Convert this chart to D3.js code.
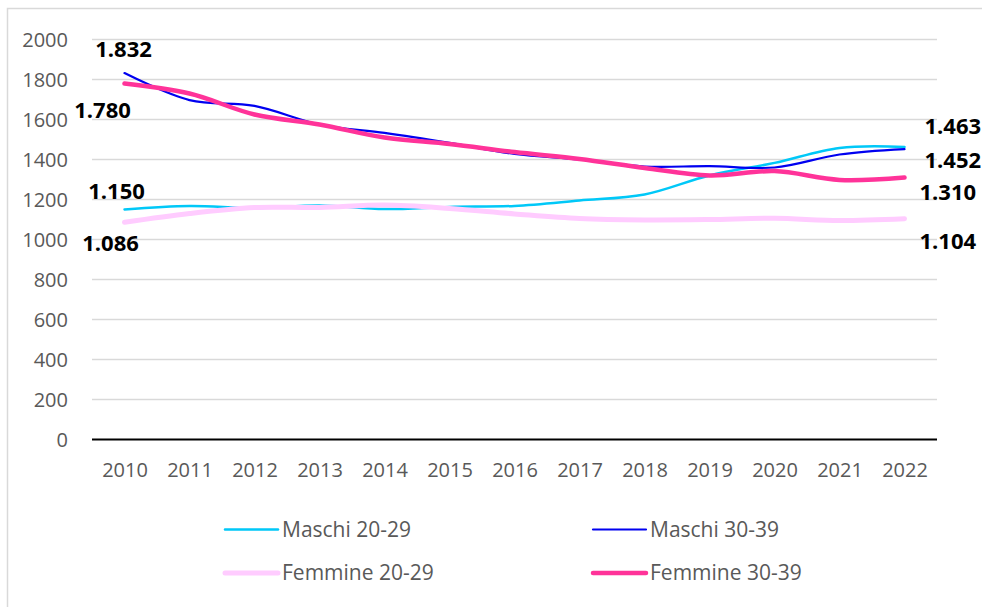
<!DOCTYPE html>
<html>
<head>
<meta charset="utf-8">
<script src="https://cdn.jsdelivr.net/npm/d3@7"></script>
<style>
  html, body { margin: 0; padding: 0; background: #fff; }
  svg { display: block; }
</style>
</head>
<body>
<svg id="chart" width="982" height="607"></svg>
<script>
// ---- data ----
const years = [2010, 2011, 2012, 2013, 2014, 2015, 2016, 2017, 2018, 2019, 2020, 2021, 2022];
const maschi2029 = [1150, 1168, 1157, 1170, 1152, 1163, 1168, 1195, 1225, 1320, 1383, 1458, 1463];
const maschi3039 = [1832, 1697, 1668, 1575, 1533, 1483, 1428, 1400, 1365, 1367, 1360, 1425, 1452];
const femmine2029 = [1086, 1130, 1160, 1160, 1172, 1155, 1128, 1105, 1098, 1100, 1106, 1095, 1104];
const femmine3039 = [1780, 1730, 1625, 1575, 1510, 1478, 1437, 1403, 1358, 1320, 1342, 1298, 1310];
const seriesNames = ["Maschi 20-29", "Maschi 30-39", "Femmine 20-29", "Femmine 30-39"];
const yTicks = [0, 200, 400, 600, 800, 1000, 1200, 1400, 1600, 1800, 2000];

const series = [
  { name: seriesNames[0], values: maschi2029, color: "#00C8F8", width: 2.5 },
  { name: seriesNames[1], values: maschi3039, color: "#0000F0", width: 2.2 },
  { name: seriesNames[2], values: femmine2029, color: "#FFCCFF", width: 5 },
  { name: seriesNames[3], values: femmine3039, color: "#FF3399", width: 4.5 }
];

// label offsets relative to first / last point
const labelSpecs = [
  { s: 0, i: 0, dx: -8, dy: -18, anchor: "middle" },
  { s: 1, i: 0, dx: -1, dy: -24, anchor: "middle" },
  { s: 2, i: 0, dx: -14, dy: 21, anchor: "middle" },
  { s: 3, i: 0, dx: -22, dy: 27, anchor: "middle" },
  { s: 0, i: 12, dx: 20, dy: -21, anchor: "start" },
  { s: 1, i: 12, dx: 20, dy: 11, anchor: "start" },
  { s: 3, i: 12, dx: 15, dy: 15, anchor: "start" },
  { s: 2, i: 12, dx: 15, dy: 22, anchor: "start" }
];

const it = d3.formatLocale({ decimal: ",", thousands: ".", grouping: [3], currency: ["€", ""] });
const fmt = it.format(",d");

const svg = d3.select("#chart");
const font = "'Open Sans', 'DejaVu Sans', sans-serif";

// outer chart border
svg.append("rect")
  .attr("x", 7.5).attr("y", 8.5).attr("width", 1000).attr("height", 640)
  .attr("fill", "#fff").attr("stroke", "#d9d9d9").attr("stroke-width", 1.5);

const x = d3.scalePoint().domain(years).range([92, 937]).padding(0.5);
const y = d3.scaleLinear().domain([0, 2000]).range([439.5, 39.5]);

// gridlines
svg.append("g").selectAll("line")
  .data(yTicks.filter(t => t > 0))
  .join("line")
  .attr("x1", 92).attr("x2", 937)
  .attr("y1", d => y(d)).attr("y2", d => y(d))
  .attr("stroke", "#d9d9d9").attr("stroke-width", 1.5);

// y axis labels
const yAxis = d3.axisLeft(y).tickValues(yTicks).tickSize(0).tickPadding(0).tickFormat(d3.format("d"));
const yg = svg.append("g").attr("transform", "translate(68,0)").call(yAxis);
yg.select(".domain").remove();
yg.selectAll("text").attr("font-family", font).attr("font-size", 20).attr("fill", "#595959").attr("dy", "0.34em");

// x axis
const xAxis = d3.axisBottom(x).tickSize(0).tickPadding(0).tickFormat(d3.format("d"));
const xg = svg.append("g").attr("transform", `translate(0,${y(0)})`).call(xAxis);
xg.select(".domain").remove();
xg.selectAll("text").attr("font-family", font).attr("font-size", 20).attr("fill", "#595959")
  .attr("y", 31).attr("dy", "0.34em");

// zero baseline
svg.append("line")
  .attr("x1", 92).attr("x2", 937).attr("y1", y(0)).attr("y2", y(0))
  .attr("stroke", "#000").attr("stroke-width", 2.2);

// lines
const line = d3.line()
  .x((d, i) => x(years[i]))
  .y(d => y(d))
  .curve(d3.curveCatmullRom.alpha(0.5));

svg.append("g").selectAll("path")
  .data(series)
  .join("path")
  .attr("d", d => line(d.values))
  .attr("fill", "none")
  .attr("stroke", d => d.color)
  .attr("stroke-width", d => d.width)
  .attr("stroke-linecap", "round")
  .attr("stroke-linejoin", "round");

// data labels
svg.append("g").selectAll("text")
  .data(labelSpecs)
  .join("text")
  .attr("x", d => x(years[d.i]) + d.dx)
  .attr("y", d => y(series[d.s].values[d.i]) + d.dy)
  .attr("dy", "0.36em")
  .attr("text-anchor", d => d.anchor)
  .attr("font-family", font).attr("font-size", 22).attr("font-weight", "bold")
  .attr("fill", "#000")
  .text(d => fmt(series[d.s].values[d.i]));

// legend
const legendPos = [
  { lx: 225, ly: 529.5 },
  { lx: 593, ly: 529.5 },
  { lx: 225, ly: 573 },
  { lx: 593, ly: 573 }
];
const lg = svg.append("g").selectAll("g")
  .data(series)
  .join("g")
  .attr("transform", (d, i) => `translate(${legendPos[i].lx},${legendPos[i].ly})`);
lg.append("line")
  .attr("x1", 0).attr("x2", 53).attr("y1", 0).attr("y2", 0)
  .attr("stroke", d => d.color).attr("stroke-width", d => d.width)
  .attr("stroke-linecap", "round");
lg.append("text")
  .attr("x", 57).attr("y", 0).attr("dy", "0.34em")
  .attr("font-family", font).attr("font-size", 21).attr("fill", "#595959")
  .text(d => d.name);
</script>
</body>
</html>
